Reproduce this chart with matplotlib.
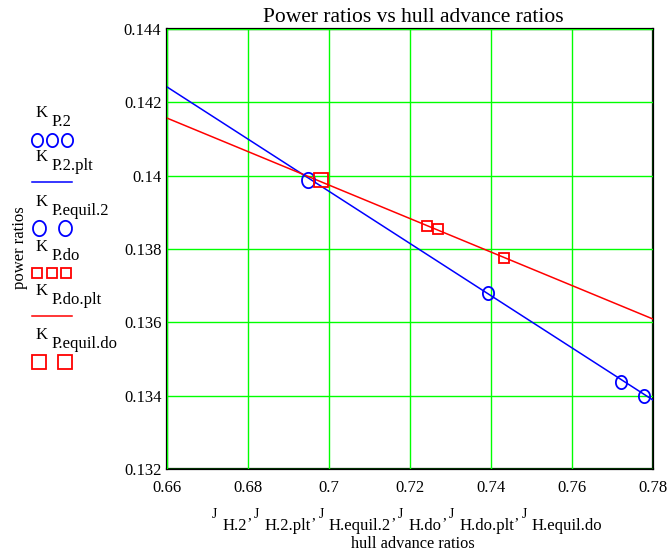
import numpy as np
import matplotlib
matplotlib.use('Agg')
import matplotlib.pyplot as plt
from matplotlib.lines import Line2D

plt.rcParams['font.family'] = ['Liberation Serif', 'DejaVu Serif']

# 数据
J_H_2 = [0.7392, 0.7721, 0.7778]
K_P_2 = [0.1368, 0.13437, 0.13399]
J_H_equil_2 = [0.6949]
K_P_equil_2 = [0.13988]
J_H_do = [0.7241, 0.7268, 0.7431]
K_P_do = [0.13863, 0.13855, 0.13775]
J_H_equil_do = [0.6981]
K_P_equil_do = [0.13988]
J_H_plt = [0.66, 0.78]
K_P_2_plt = [0.14242, 0.13388]
K_P_do_plt = [0.14157, 0.13609]

x_ticks = [0.66, 0.68, 0.70, 0.72, 0.74, 0.76, 0.78]
x_tick_labels = ['0.66', '0.68', '0.7', '0.72', '0.74', '0.76', '0.78']
y_ticks = [0.132, 0.134, 0.136, 0.138, 0.14, 0.142, 0.144]
y_tick_labels = ['0.132', '0.134', '0.136', '0.138', '0.14', '0.142', '0.144']

W, H = 669, 553
fig = plt.figure(figsize=(W / 100, H / 100), dpi=100)
ax = fig.add_axes([167 / W, 1 - 469 / H, (653 - 167) / W, (469 - 29) / H])


def px(x, y):
    # 像素坐标 -> figure 坐标
    return x / W, 1 - y / H


# 椭圆形的圈
t = np.linspace(0, 2 * np.pi, 60)
ell = np.column_stack([0.85 * np.cos(t), np.sin(t)])

blue = '#0000ff'
red = '#ff0000'

ax.plot(J_H_plt, K_P_2_plt, color=blue, lw=1.1)
ax.plot(J_H_plt, K_P_do_plt, color=red, lw=1.1)
ax.plot(J_H_2, K_P_2, ls='none', marker=ell, ms=9.5, mfc='none', mec=blue, mew=1.3)
ax.plot(J_H_equil_2, K_P_equil_2, ls='none', marker=ell, ms=11, mfc='none', mec=blue, mew=1.3)
ax.plot(J_H_do, K_P_do, ls='none', marker='s', ms=7.5, mfc='none', mec=red, mew=1.3)
ax.plot(J_H_equil_do, K_P_equil_do, ls='none', marker='s', ms=9.5, mfc='none', mec=red, mew=1.3)

ax.set_xlim(0.66, 0.78)
ax.set_ylim(0.132, 0.144)
ax.set_xticks(x_ticks)
ax.set_xticklabels(x_tick_labels)
ax.set_yticks(y_ticks)
ax.set_yticklabels(y_tick_labels)
ax.tick_params(length=0, labelsize=12)
ax.tick_params(axis='x', pad=8)
ax.tick_params(axis='y', pad=4)
ax.grid(True, color='#00ff00', lw=1.0)
ax.set_axisbelow(True)
for s in ax.spines.values():
    s.set_linewidth(1.6)
    s.set_color('black')
    s.set_zorder(0.5)

# 标题
fig.text(*px(413, 22), 'Power ratios vs hull advance ratios', fontsize=15.5,
         ha='center', va='baseline')
fig.text(*px(20, 248), 'power ratios', fontsize=12, rotation=90,
         ha='center', va='center')
fig.text(*px(413, 548), 'hull advance ratios', fontsize=11.8,
         ha='center', va='baseline')

renderer = fig.canvas.get_renderer()


def chain(x0, pieces):
    # 依次排列文字片段：(文字, 基线, 字号, 前面的空隙)
    x = x0
    for s, yb, size, gap in pieces:
        x += gap
        tx = fig.text(*px(x, yb), s, fontsize=size, ha='left', va='baseline')
        x += tx.get_window_extent(renderer).width


# x 轴名称第一行
xl = []
subs = ['H.2', 'H.2.plt', 'H.equil.2', 'H.do', 'H.do.plt', 'H.equil.do']
for i, sub in enumerate(subs):
    xl.append(('J', 518, 10, 0 if i == 0 else 3))
    xl.append((sub, 530, 12, 5))
    if i < len(subs) - 1:
        xl.append((',', 519, 11, 0.5))
chain(212, xl)

# 左侧图例
legend_items = [('P.2', 117), ('P.2.plt', 161), ('P.equil.2', 206),
                ('P.do', 251), ('P.do.plt', 295), ('P.equil.do', 339)]
for sub, yb in legend_items:
    fig.text(*px(36, yb), 'K', fontsize=12, ha='left', va='baseline')
    fig.text(*px(52, yb + 9), sub, fontsize=12, ha='left', va='baseline')


def fig_marker(xs, y, **kw):
    for xx in xs:
        fig.add_artist(Line2D([xx / W], [1 - y / H], ls='none', mfc='none', mew=1.3, **kw))


fig_marker([37, 52, 67], 140, marker=ell, ms=9.5, mec=blue)
fig.add_artist(Line2D([32 / W, 72 / W], [1 - 182 / H] * 2, color=blue, lw=1.1))
fig_marker([39, 65], 228, marker=ell, ms=11, mec=blue)
fig_marker([37, 52, 66], 273, marker='s', ms=7.5, mec=red)
fig.add_artist(Line2D([32 / W, 72 / W], [1 - 316 / H] * 2, color=red, lw=1.1))
fig_marker([39, 65], 362, marker='s', ms=9.5, mec=red)

fig.savefig('out.png', dpi=100)
